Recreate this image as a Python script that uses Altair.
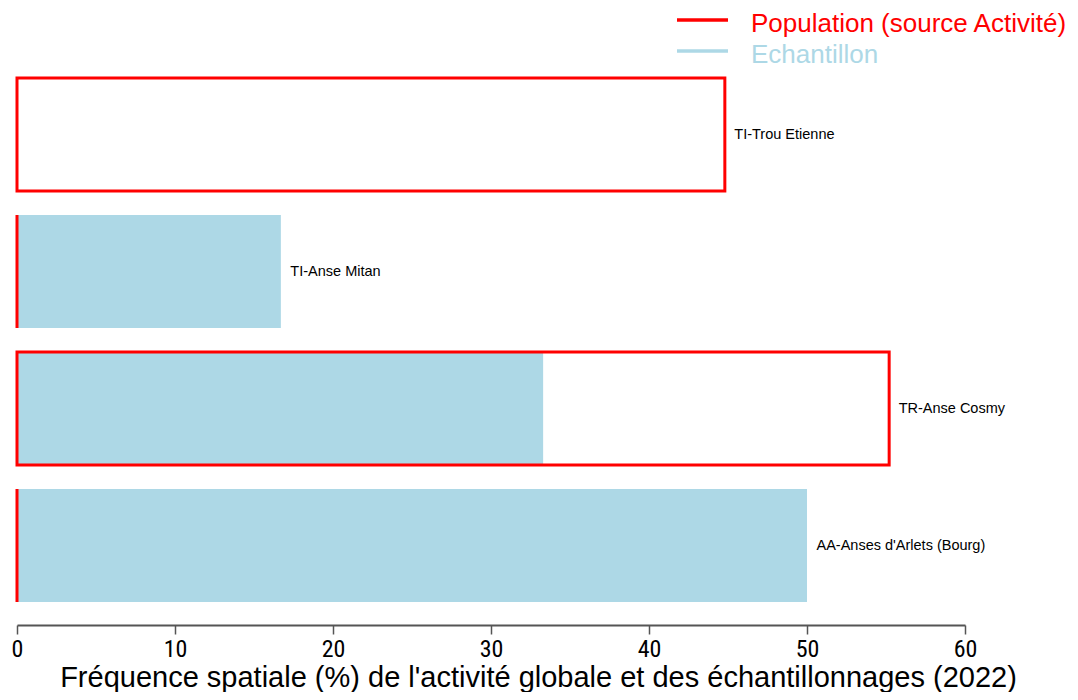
import altair as alt
import pandas as pd

sites = ["TI-Trou Etienne", "TI-Anse Mitan", "TR-Anse Cosmy", "AA-Anses d'Arlets (Bourg)"]
population = [44.8, 0.0, 55.2, 0.0]
echantillon = [0.0, 16.7, 33.3, 50.0]

df = pd.DataFrame({"site": sites, "pop": population, "ech": echantillon})
df["lab"] = df[["pop", "ech"]].max(axis=1) + 0.6

RED = "#FF0000"
BLUE = "#ADD8E6"

yenc = alt.Y("site:N", sort=sites, axis=None,
             scale=alt.Scale(paddingInner=0.175, paddingOuter=0.0875))
xscale = alt.Scale(domain=[0, 60], nice=False)
xaxis = alt.Axis(values=[0, 10, 20, 30, 40, 50, 60], grid=False, offset=11,
                 domainColor="#555555", domainWidth=2, tickColor="#555555", tickWidth=1.5,
                 tickSize=9, labelFont="Roboto Condensed, DejaVu Sans Condensed, sans-serif",
                 labelFontSize=24, labelFlush=False,
                 labelColor="black", labelPadding=3,
                 title="Fréquence spatiale (%) de l'activité globale et des échantillonnages (2022)",
                 titleFont="Liberation Sans", titleFontSize=29, titleFontWeight="normal",
                 titleColor="black", titleX=521, titleY=61, titleAlign="center",
                 titleBaseline="alphabetic", titleAnchor="start")

base = alt.Chart(df)

ech_bars = base.mark_bar(color=BLUE).encode(
    x=alt.X("ech:Q", scale=xscale, axis=xaxis), y=yenc)

pop_bars = base.mark_bar(fill="white", fillOpacity=0, stroke=RED, strokeWidth=3).encode(
    x=alt.X("pop:Q", scale=xscale), y=yenc)

labels = base.mark_text(align="left", baseline="middle", font="Liberation Sans",
                        fontSize=14.5, color="black").encode(
    x=alt.X("lab:Q", scale=xscale), y=yenc, text="site:N")

leg_names = ["Population (source Activité)", "Echantillon"]
leg_colors = [RED, BLUE]
leg_rows = [0, 1]
leg_df = pd.DataFrame({"name": leg_names, "col": leg_colors, "row": leg_rows})
leg = alt.Chart(leg_df)
leg_lines = leg.mark_rule(strokeWidth=3.5).encode(
    x=alt.value(660), x2=alt.value(711),
    y=alt.Y("row:Q", axis=None, scale=alt.Scale(domain=[0, 1], range=[-46, -15])),
    color=alt.Color("col:N", scale=None))
leg_text = leg.mark_text(align="left", baseline="alphabetic", font="Liberation Sans",
                         fontSize=26).encode(
    x=alt.value(734),
    y=alt.Y("row:Q", axis=None, scale=alt.Scale(domain=[0, 1], range=[-34, -3])),
    text="name:N", color=alt.Color("col:N", scale=None))

chart = alt.layer(ech_bars, pop_bars, labels, leg_lines, leg_text).resolve_scale(
    y="independent").properties(
    width=948, height=548,
    autosize=alt.AutoSizeParams(type="none"),
    padding={"left": 9, "top": 58, "right": 105, "bottom": 78},
).configure(background="white").configure_view(stroke=None)

chart.save("out.html", embed_options={"renderer": "svg", "actions": False})
